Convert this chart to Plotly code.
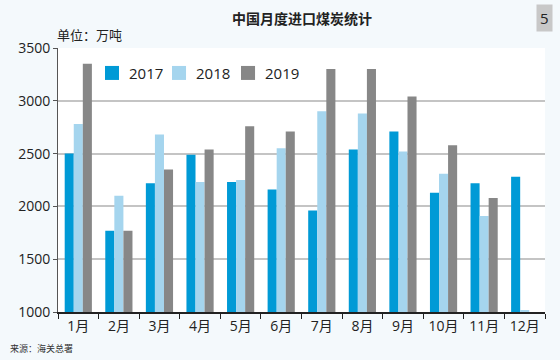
import plotly.graph_objects as go

months = ["1月", "2月", "3月", "4月", "5月", "6月", "7月", "8月", "9月", "10月", "11月", "12月"]
years = ["2017", "2018", "2019"]
y2017 = [2500, 1770, 2220, 2490, 2230, 2160, 1960, 2540, 2710, 2130, 2220, 2280]
y2018 = [2780, 2100, 2680, 2230, 2250, 2550, 2900, 2880, 2520, 2310, 1910, 1020]
y2019 = [3350, 1770, 2350, 2540, 2760, 2710, 3300, 3300, 3040, 2580, 2080, None]
yticks = [1000, 1500, 2000, 2500, 3000, 3500]
colors = ["#009ad6", "#a5d5ee", "#878787"]

font = "Open Sans, Noto Sans CJK SC"
fig = go.Figure()
for name, vals, col in zip(years, [y2017, y2018, y2019], colors):
    fig.add_trace(go.Bar(x=months, y=vals, name=name, marker_color=col, marker_line_width=0,
                         showlegend=False))

fig.update_layout(
    width=560, height=360,
    margin=dict(l=58, r=15, t=48, b=48),
    paper_bgcolor="#f4f9fc", plot_bgcolor="#ffffff",
    font=dict(family=font, size=14, color="#222"),
    barmode="group", bargap=0.33, bargroupgap=0,
    xaxis=dict(showline=True, linecolor="#222", linewidth=1.5, ticks="outside", tickson="boundaries",
               ticklen=5, tickcolor="#222", tickfont=dict(size=14), fixedrange=True),
    yaxis=dict(range=[1000, 3500], tickvals=yticks, showline=True, linecolor="#555", linewidth=1,
               ticks="outside", ticklen=4, tickcolor="#555", gridcolor="#c4c4c4", gridwidth=1.5,
               tickfont=dict(size=14), zeroline=False),
)

# manual legend (big square swatches)
leg_x = [0.0965, 0.2341, 0.3758]
for lx, name, col in zip(leg_x, years, colors):
    fig.add_shape(type="rect", xref="paper", yref="paper", x0=lx, x1=lx + 0.0288,
                  y0=0.879, y1=0.932, fillcolor=col, line_width=0)
    fig.add_annotation(text=name, xref="paper", yref="paper", x=lx + 0.045, y=0.905,
                       xanchor="left", yanchor="middle", showarrow=False,
                       font=dict(size=15, color="#222"))

fig.add_annotation(text="<b>中国月度进口煤炭统计</b>", xref="paper", yref="paper", x=0.5, y=1.114,
                   xanchor="center", yanchor="middle", showarrow=False,
                   font=dict(size=14, color="#222", family="Noto Sans CJK SC"))
fig.add_annotation(text="单位：万吨", xref="paper", yref="paper", x=-0.006, y=1.05,
                   xanchor="left", yanchor="middle", showarrow=False,
                   font=dict(size=13, color="#222", family="Noto Sans CJK SC"))
fig.add_annotation(text="5", xref="paper", yref="paper", x=1.016, y=1.114,
                   xanchor="right", yanchor="middle", showarrow=False, bgcolor="#c8c8c8",
                   font=dict(size=15, color="#222", family="Open Sans"), borderpad=3)
fig.add_annotation(text="来源：海关总署", xref="paper", yref="paper", x=-0.103, y=-0.14,
                   xanchor="left", yanchor="middle", showarrow=False,
                   font=dict(size=9, color="#333", family="Noto Sans CJK SC"))

fig.write_html("out.html", config={"displayModeBar": False},
               post_script="document.body.style.margin='0';")
